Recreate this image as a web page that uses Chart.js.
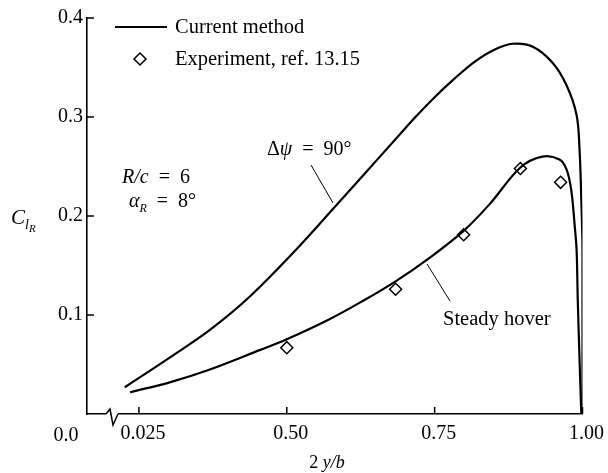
<!DOCTYPE html>
<html>
<head>
<meta charset="utf-8">
<script src="https://cdn.jsdelivr.net/npm/chart.js@4"></script>
<style>
  body { margin: 0; background: #fff; }
  #wrap { width: 608px; height: 473px; position: relative; }
</style>
</head>
<body>
<div id="wrap"><canvas id="c"></canvas></div>
<script>
// spanwise station 2y/b and section lift coefficient
var upperX = [0.226, 0.302, 0.370, 0.438, 0.522, 0.578, 0.632, 0.686, 0.716, 0.750, 0.784, 0.818, 0.851, 0.882, 0.916, 0.949, 0.973, 0.990, 0.995, 0.998, 1.0, 1.0];
var upperY = [0.027, 0.057, 0.085, 0.119, 0.170, 0.207, 0.243, 0.279, 0.299, 0.320, 0.339, 0.356, 0.368, 0.374, 0.371, 0.355, 0.332, 0.302, 0.267, 0.216, 0.166, 0.0];

var hoverX = [0.235, 0.302, 0.370, 0.454, 0.500, 0.573, 0.628, 0.684, 0.742, 0.799, 0.843, 0.895, 0.932, 0.961, 0.973, 0.981, 0.987, 0.990, 0.992, 0.995, 0.998];
var hoverY = [0.022, 0.032, 0.045, 0.0645, 0.0755, 0.096, 0.114, 0.134, 0.158, 0.185, 0.212, 0.249, 0.260, 0.257, 0.247, 0.226, 0.189, 0.166, 0.115, 0.055, 0.0];

var expX = [0.50, 0.684, 0.799, 0.895, 0.963];
var expY = [0.067, 0.126, 0.181, 0.248, 0.234];

var xTicks = [0.25, 0.50, 0.75, 1.00];
var xTickLabels = ['0.025', '0.50', '0.75', '1.00'];
var yTicks = [0.1, 0.2, 0.3, 0.4];
var yTickLabels = ['0.1', '0.2', '0.3', '0.4'];

var seriesLabels = ['Current method', 'Experiment, ref. 13.15'];

var SERIF = '"Liberation Serif", "DejaVu Serif", serif';

function pts(xs, ys) {
    return xs.map(function (x, i) { return { x: x, y: ys[i] }; });
}

function txt(ctx, parts, x, y) {
    // parts: [text, font, dy]
    parts.forEach(function (p) {
        ctx.font = p[1];
        ctx.fillText(p[0], x, y + (p[2] || 0));
        x += ctx.measureText(p[0]).width;
    });
}

var decor = {
    id: 'decor',
    afterDraw: function (chart) {
        var ctx = chart.ctx;
        var xs = chart.scales.x, ys = chart.scales.y;
        var a = chart.chartArea;
        ctx.save();
        ctx.strokeStyle = '#000';
        ctx.fillStyle = '#000';

        // inward tick marks
        ctx.lineWidth = 1.5;
        ctx.beginPath();
        yTicks.forEach(function (v) {
            var py = ys.getPixelForValue(v);
            ctx.moveTo(a.left, py); ctx.lineTo(a.left + 7, py);
        });
        xTicks.forEach(function (v) {
            var px = xs.getPixelForValue(v);
            ctx.moveTo(px, a.bottom); ctx.lineTo(px, a.bottom - 7);
        });
        ctx.stroke();

        // axis break
        ctx.fillStyle = '#fff';
        ctx.fillRect(a.left + 19, a.bottom - 2, 12, 4);
        ctx.fillStyle = '#000';
        ctx.beginPath();
        ctx.moveTo(a.left + 19, a.bottom);
        ctx.lineTo(a.left + 23, a.bottom - 5);
        ctx.lineTo(a.left + 26, a.bottom + 11);
        ctx.lineTo(a.left + 31, a.bottom);
        ctx.stroke();

        ctx.textBaseline = 'alphabetic';
        ctx.textAlign = 'left';

        // shared origin label
        ctx.font = '20px ' + SERIF;
        ctx.textAlign = 'center';
        ctx.fillText('0.0', 66, a.bottom + 27);
        ctx.textAlign = 'left';

        // y title
        txt(ctx, [['C', 'italic 21px ' + SERIF, 0], ['l', 'italic 14px ' + SERIF, 5], ['R', 'italic 11px ' + SERIF, 8]], 11, 224);

        // x title
        ctx.font = '18px ' + SERIF;
        var w = ctx.measureText('2 ').width;
        ctx.font = 'italic 18px ' + SERIF;
        w += ctx.measureText('y/b').width;
        txt(ctx, [['2 ', '18px ' + SERIF], ['y/b', 'italic 18px ' + SERIF]], 327 - w / 2, 468);

        // legend
        ctx.lineWidth = 2;
        ctx.beginPath();
        ctx.moveTo(115, 27); ctx.lineTo(167, 27);
        ctx.stroke();
        ctx.font = '20.5px ' + SERIF;
        ctx.textBaseline = 'middle';
        ctx.fillText(seriesLabels[0], 175, 28);
        ctx.fillText(seriesLabels[1], 175, 60);
        ctx.lineWidth = 1.5;
        ctx.beginPath();
        ctx.moveTo(140, 53); ctx.lineTo(146, 59); ctx.lineTo(140, 65); ctx.lineTo(134, 59);
        ctx.closePath();
        ctx.stroke();
        ctx.textBaseline = 'alphabetic';

        // annotations
        txt(ctx, [['R/c', 'italic 20px ' + SERIF], ['  =  6', '20px ' + SERIF]], 122, 183);
        txt(ctx, [['\u03b1', 'italic 20px ' + SERIF], ['R', 'italic 12px ' + SERIF, 5], ['  =  8\u00b0', '20px ' + SERIF]], 129, 207);
        txt(ctx, [['\u0394', '20px ' + SERIF], ['\u03c8', 'italic 20px ' + SERIF], ['  =  90\u00b0', '20px ' + SERIF]], 267, 155);
        txt(ctx, [['Steady hover', '20.5px ' + SERIF]], 443, 325);

        ctx.lineWidth = 1;
        ctx.beginPath();
        ctx.moveTo(311, 165); ctx.lineTo(333, 203);
        ctx.moveTo(427, 264); ctx.lineTo(450, 301);
        ctx.stroke();

        ctx.restore();
    }
};

var chart = new Chart(document.getElementById('c'), {
    type: 'scatter',
    data: {
        datasets: [{
            label: seriesLabels[0],
            data: pts(upperX, upperY),
            showLine: true,
            borderColor: '#000',
            borderWidth: 2.2,
            pointRadius: 0,
            tension: 0.35
        }, {
            label: 'Steady hover',
            data: pts(hoverX, hoverY),
            showLine: true,
            borderColor: '#000',
            borderWidth: 2.2,
            pointRadius: 0,
            tension: 0.35
        }, {
            label: seriesLabels[1],
            data: pts(expX, expY),
            showLine: false,
            pointStyle: 'rectRot',
            pointRadius: 6,
            pointBackgroundColor: '#fff',
            pointBorderColor: '#000',
            pointBorderWidth: 1.5
        }, {
            // centre dots of the experiment symbols
            label: 'dots',
            data: pts(expX, expY),
            showLine: false,
            pointRadius: 0.8,
            pointBackgroundColor: '#000',
            pointBorderWidth: 0
        }]
    },
    options: {
        responsive: true,
        maintainAspectRatio: false,
        animation: false,
        layout: { padding: { top: 18, right: 25, left: 0, bottom: 0 } },
        plugins: {
            legend: { display: false },
            tooltip: { enabled: false }
        },
        scales: {
            x: {
                type: 'linear',
                min: 0.1622,
                max: 1.0,
                afterFit: function (s) { s.height = 59; },
                afterBuildTicks: function (s) {
                    s.ticks = xTicks.map(function (v) { return { value: v }; });
                },
                ticks: {
                    color: '#000',
                    font: { family: SERIF, size: 20 },
                    padding: 8,
                    labelOffset: 4,
                    maxRotation: 0,
                    callback: function (v) {
                        var i = xTicks.indexOf(v);
                        return i < 0 ? '' : xTickLabels[i];
                    }
                },
                grid: { display: true, drawOnChartArea: false, drawTicks: false },
                border: { display: true, color: '#000', width: 1.6 }
            },
            y: {
                type: 'linear',
                min: 0,
                max: 0.4,
                afterFit: function (s) { s.width = 87; },
                afterBuildTicks: function (s) {
                    s.ticks = yTicks.map(function (v) { return { value: v }; });
                },
                ticks: {
                    color: '#000',
                    font: { family: SERIF, size: 20 },
                    padding: 4,
                    callback: function (v) {
                        var i = yTicks.indexOf(v);
                        return i < 0 ? '' : yTickLabels[i];
                    }
                },
                grid: { display: true, drawOnChartArea: false, drawTicks: false },
                border: { display: true, color: '#000', width: 1.6 }
            }
        }
    },
    plugins: [decor]
});
</script>
</body>
</html>
